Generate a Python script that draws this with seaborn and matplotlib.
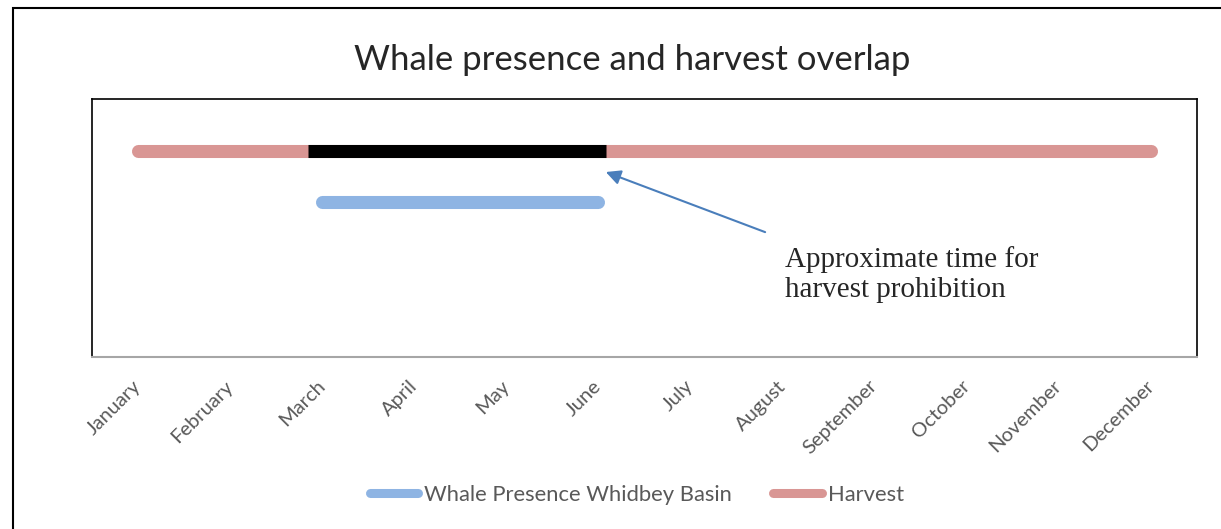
import pandas as pd
import matplotlib
matplotlib.use('Agg')
import matplotlib.pyplot as plt
import seaborn as sns
from matplotlib.patches import Rectangle

# Chart data
months = ['January', 'February', 'March', 'April', 'May', 'June',
          'July', 'August', 'September', 'October', 'November', 'December']
harvest_months = months
harvest_level = 4
whale_months = ['March', 'April', 'May', 'June']
whale_level = 3
# black overlap bar, in month index units
prohibition_start = 1.85
prohibition_end = 5.08

sns.set_theme(style='white')
plt.rcParams['font.family'] = ['Lato', 'DejaVu Sans']

rows = []
for m in harvest_months:
    rows.append({'series': 'Harvest', 'month': months.index(m), 'value': harvest_level})
for m in whale_months:
    rows.append({'series': 'Whale Presence Whidbey Basin', 'month': months.index(m), 'value': whale_level})
df = pd.DataFrame(rows)

fig = plt.figure(figsize=(12.21, 5.29), dpi=100)
ax = fig.add_axes([92 / 1221, 1 - 357 / 529, (1197 - 92) / 1221, (357 - 99) / 529])

palette = {'Whale Presence Whidbey Basin': '#8eb4e3', 'Harvest': '#d99694'}
sns.lineplot(data=df, x='month', y='value', hue='series', palette=palette,
             hue_order=['Whale Presence Whidbey Basin', 'Harvest'],
             linewidth=9.4, solid_capstyle='round', legend=False, ax=ax)
overlap = pd.DataFrame({'month': [prohibition_start, prohibition_end],
                        'value': [harvest_level, harvest_level]})
sns.lineplot(data=overlap, x='month', y='value', color='black', linewidth=9.4,
             solid_capstyle='butt', ax=ax)

ax.set_xlim(-0.5, 11.5)
ax.set_ylim(0, 5)
ax.set_xticks(range(len(months)))
ax.set_xticklabels(months, rotation=45, ha='right', va='center', rotation_mode='anchor',
                   fontsize=14.5, color='#595959')
ax.tick_params(axis='x', length=0, pad=19)
ax.set_yticks([])
ax.set_xlabel('')
ax.set_ylabel('')
for side in ['left', 'right', 'top']:
    ax.spines[side].set_color('black')
    ax.spines[side].set_linewidth(1.2)
ax.spines['bottom'].set_color('#a6a6a6')
ax.spines['bottom'].set_linewidth(1.5)

# annotation arrow and text
ax.annotate('', xy=(5.08, 3.585), xytext=(6.81, 2.42),
            arrowprops=dict(arrowstyle='-|>', color='#4a7ebb', lw=1.5,
                            mutation_scale=22, shrinkA=0, shrinkB=0))
t = ax.text(7.03, 2.16, 'Approximate time for\nharvest prohibition', fontsize=21,
            family=['Liberation Serif'], va='top', ha='left', linespacing=1.2)
# the text box in the original cuts off the bottom of the second line
clip = Rectangle((0, 529 - 298), 1221, 298, transform=None)
t.set_clip_path(clip)

fig.suptitle('Whale presence and harvest overlap', x=632 / 1221, y=1 - 44 / 529,
             fontsize=25, va='top')

# legend
handles = [plt.Line2D([], [], color=palette['Whale Presence Whidbey Basin'], lw=6.5, solid_capstyle='round'),
           plt.Line2D([], [], color=palette['Harvest'], lw=6.5, solid_capstyle='round')]
leg = fig.legend(handles, ['Whale Presence Whidbey Basin', 'Harvest'], loc='center',
                 bbox_to_anchor=(637 / 1221, 1 - 495 / 529), ncol=2, frameon=False,
                 fontsize=15.8, handlelength=2.2, handletextpad=0.3, columnspacing=1.87)
for txt in leg.get_texts():
    txt.set_color('#595959')

# outer chart border
fig.patches.append(Rectangle((13 / 1221, -0.1), 1.2, 1.1 - 8 / 529, transform=fig.transFigure,
                             fill=False, edgecolor='black', lw=1.5, figure=fig))

fig.savefig('out.png', dpi=100)
